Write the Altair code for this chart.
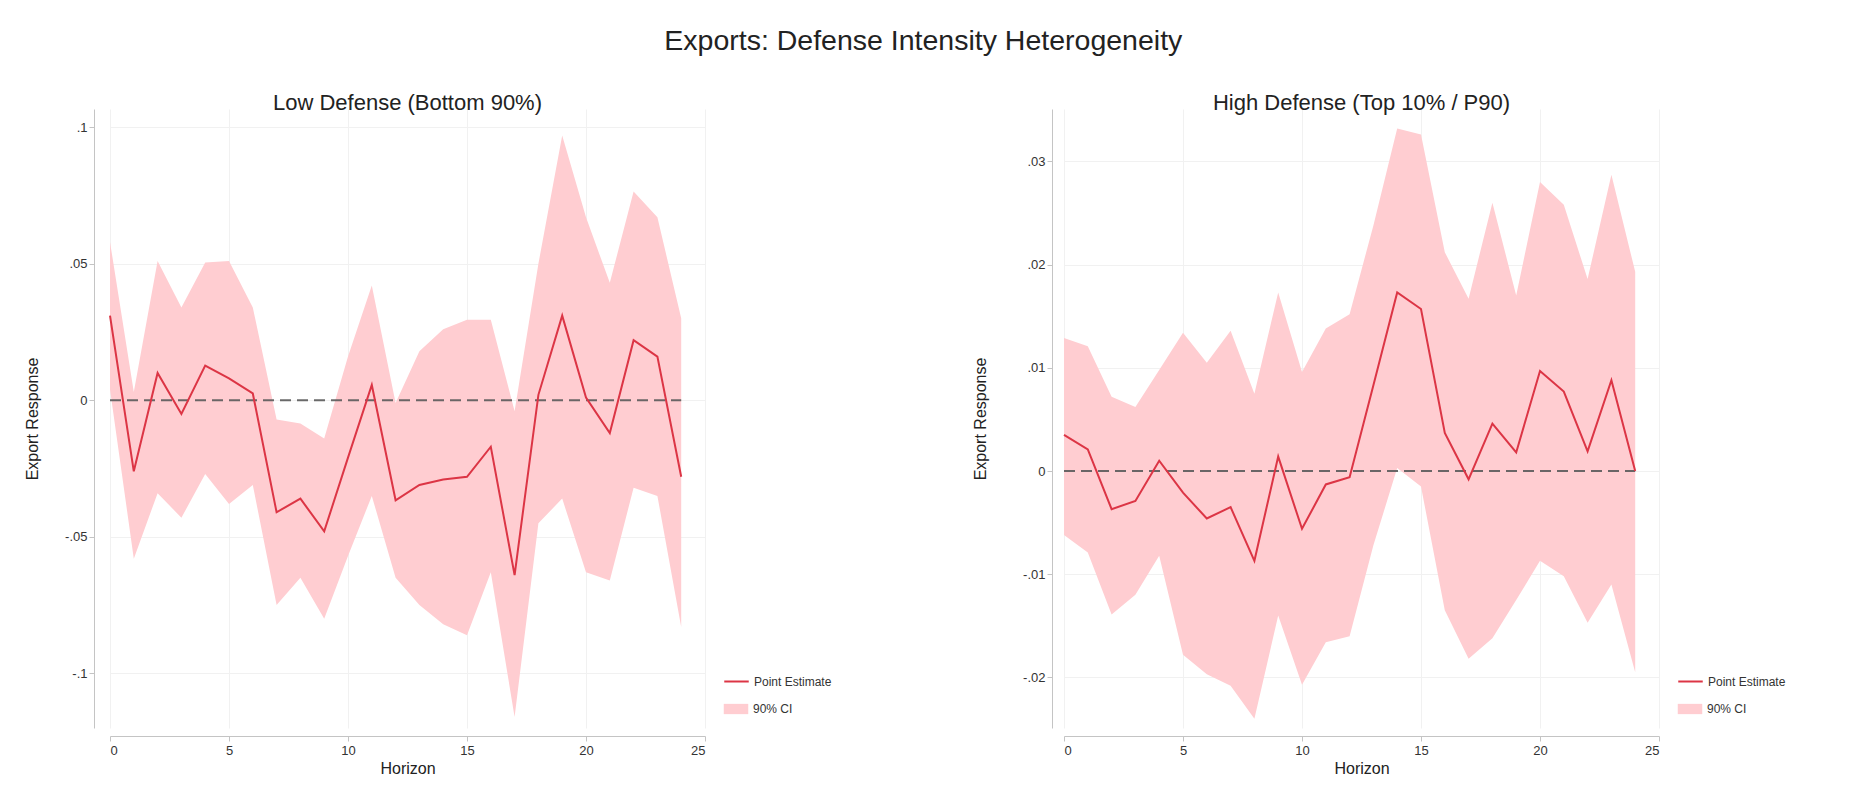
import altair as alt
import pandas as pd

# Local-projection horizons (months after the shock)
horizon = list(range(25))

# Low defense-intensity group (bottom 90%)
low_est = [0.031, -0.026, 0.010, -0.005, 0.0127, 0.008, 0.0025, -0.041, -0.036, -0.048,
           -0.021, 0.0056, -0.0366, -0.031, -0.029, -0.028, -0.017, -0.064, 0.002, 0.031,
           0.001, -0.012, 0.022, 0.016, -0.028]
low_hi = [0.058, 0.003, 0.051, 0.034, 0.0505, 0.051, 0.034, -0.007, -0.0085, -0.014,
          0.016, 0.042, -0.001, 0.018, 0.026, 0.0295, 0.0295, -0.004, 0.050, 0.097,
          0.067, 0.043, 0.0765, 0.067, 0.030]
low_lo = [0.004, -0.058, -0.034, -0.043, -0.027, -0.038, -0.031, -0.075, -0.065, -0.080,
          -0.057, -0.035, -0.065, -0.075, -0.082, -0.086, -0.063, -0.116, -0.045, -0.036,
          -0.063, -0.066, -0.032, -0.035, -0.083]

# High defense-intensity group (top 10% / P90)
high_est = [0.0035, 0.0021, -0.0037, -0.0029, 0.0010, -0.0021, -0.0046, -0.0035, -0.0087, 0.0014,
            -0.0056, -0.0013, -0.0006, 0.0083, 0.0173, 0.0157, 0.0037, -0.0008, 0.0046, 0.0018,
            0.0097, 0.0077, 0.0019, 0.0088, 0.0]
high_hi = [0.0129, 0.0121, 0.0072, 0.0062, 0.0098, 0.0134, 0.0105, 0.0136, 0.0075, 0.0173,
           0.0096, 0.0138, 0.0152, 0.0238, 0.0332, 0.0326, 0.0212, 0.0167, 0.0260, 0.0170,
           0.0280, 0.0258, 0.0186, 0.0287, 0.0193]
high_lo = [-0.0062, -0.0079, -0.0139, -0.0120, -0.0082, -0.0178, -0.0197, -0.0208, -0.0240, -0.0140,
           -0.0207, -0.0166, -0.0160, -0.0072, 0.0003, -0.0015, -0.0135, -0.0182, -0.0162, -0.0125,
           -0.0087, -0.0102, -0.0147, -0.0110, -0.0195]

x_ticks = [0, 5, 10, 15, 20, 25]
low_y_ticks = [-0.1, -0.05, 0, 0.05, 0.1]
high_y_ticks = [-0.02, -0.01, 0, 0.01, 0.02, 0.03]

FONT = "Liberation Sans"
LINE_RED = "#dc3545"
BAND_PINK = "#ffcdd1"
ZERO_GREY = "#5a5a5a"

# Stata-style labels: no leading zero, plain hyphen for negatives
Y_LABELS = ("datum.value == 0 ? '0' : (datum.value < 0 ? '-' : '') + "
            "replace(format(abs(datum.value), '~g'), '0.', '.')")

W, H = 595, 619


def panel(title, est, lo, hi, y_domain, y_ticks, title_pad, y_offset):
    df = pd.DataFrame({"h": horizon, "est": est, "lo": lo, "hi": hi,
                       "series": "Point Estimate", "band": "90% CI"})
    zero = pd.DataFrame({"h0": [horizon[0]], "h1": [horizon[-1]], "y": [0.0]})

    x_enc = alt.X("h:Q", title="Horizon",
                  scale=alt.Scale(domain=[0, 25], nice=False, zero=False),
                  axis=alt.Axis(values=x_ticks, offset=8, labelPadding=3, titlePadding=3,
                                grid=True))
    y_scale = alt.Scale(domain=y_domain, nice=False, zero=False)
    y_axis = alt.Axis(values=y_ticks, labelExpr=Y_LABELS, offset=y_offset,
                      title="Export Response", titlePadding=title_pad, grid=True)

    band = alt.Chart(df).mark_area(opacity=1).encode(
        x=x_enc,
        y=alt.Y("lo:Q", scale=y_scale, axis=y_axis),
        y2="hi:Q",
        fill=alt.Fill("band:N",
                      scale=alt.Scale(domain=["90% CI"], range=[BAND_PINK]),
                      legend=alt.Legend(title=None, orient="none", legendX=W + 18, legendY=H - 32,
                                        symbolType="M-1,-0.42L1,-0.42L1,0.42L-1,0.42Z",
                                        symbolSize=600, symbolOpacity=1)),
    )
    rule = alt.Chart(zero).mark_rule(strokeDash=[11, 6], strokeWidth=2, color=ZERO_GREY,
                                     opacity=0.9).encode(
        x="h0:Q", x2="h1:Q", y="y:Q")
    line = alt.Chart(df).mark_line(strokeWidth=2).encode(
        x="h:Q",
        y="est:Q",
        stroke=alt.Stroke("series:N",
                          scale=alt.Scale(domain=["Point Estimate"], range=[LINE_RED]),
                          legend=alt.Legend(title=None, orient="none", legendX=W + 18, legendY=H - 60,
                                            symbolType="stroke", symbolSize=600,
                                            symbolStrokeWidth=2)),
    )
    return alt.layer(band, rule, line).properties(
        width=W, height=H,
        title=alt.TitleParams(text=title, fontSize=22, font=FONT, fontWeight="normal",
                              color="#222222", anchor="middle", offset=-6),
    )


left = panel("Low Defense (Bottom 90%)", low_est, low_lo, low_hi,
             [-0.12, 0.10667], low_y_ticks, 24, 16)
right = panel("High Defense (Top 10% / P90)", high_est, high_lo, high_hi,
              [-0.0249, 0.03508], high_y_ticks, 34, 12)

chart = (
    alt.hconcat(left, right, spacing=140)
    .resolve_scale(x="independent", y="independent", stroke="independent", fill="independent")
    .resolve_legend(stroke="independent", fill="independent")
    .properties(
        title=alt.TitleParams(text="Exports: Defense Intensity Heterogeneity", fontSize=28.5,
                              font=FONT, fontWeight="normal", color="#222222",
                              anchor="middle", offset=37, dx=18),
        padding={"left": 24, "top": 26, "right": 5, "bottom": 5},
        background="white",
    )
    .configure_view(strokeWidth=0)
    .configure_axis(labelFont=FONT, labelFontSize=13, labelColor="#333333",
                    titleFont=FONT, titleFontSize=16, titleFontWeight="normal",
                    titleColor="#222222", domainColor="#c4c4c4", tickColor="#c4c4c4",
                    tickSize=5, gridColor="#f1f1f1", gridWidth=1)
    .configure_legend(labelFont=FONT, labelFontSize=12, labelColor="#333333",
                      rowPadding=10)
)

chart.save("out.html", embed_options={"renderer": "svg", "actions": False})
